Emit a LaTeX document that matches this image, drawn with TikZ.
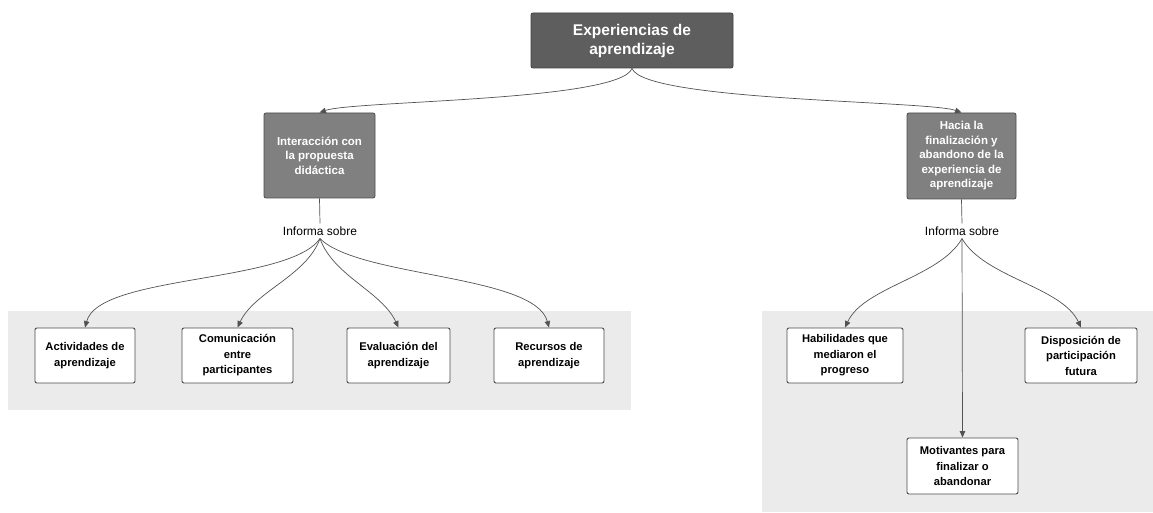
\documentclass[tikz,border=0pt]{standalone}
\usepackage{fontspec}
\setmainfont{Liberation Sans}
\usetikzlibrary{arrows.meta}

\begin{document}
\begin{tikzpicture}[
	x=1pt, y=1pt,
	titlebox/.style={draw=black!75, fill=black!63, rounded corners=2pt, text=white,
		font=\bfseries\fontsize{15.5}{19}\selectfont, align=center, line width=0.8pt,
		minimum width=202pt, minimum height=55pt, inner sep=0pt},
	groupbox/.style={draw=black!70, fill=black!50, rounded corners=2pt, text=white,
		font=\bfseries\fontsize{11.5}{14.5}\selectfont, align=center, line width=0.8pt, inner sep=0pt},
	itembox/.style={draw=black!70, fill=white, rounded corners=2pt,
		font=\bfseries\fontsize{11.2}{15.5}\selectfont, align=center, line width=0.9pt, inner sep=0pt},
	infotext/.style={font=\fontsize{12}{14}\selectfont, inner sep=3pt},
	conn/.style={draw=black!68, line width=0.7pt, -{Triangle[length=6.5pt,width=5.5pt]}},
	panel/.style={fill=black!8}
]
	\useasboundingbox (0,0) rectangle (1153,512);

	% grey panels behind the items
	\fill[panel] (8,201) rectangle (631,102);
	\fill[panel] (762,201) rectangle (1153,0);

	\node[titlebox] (top) at (632,471.5) {Experiencias de\\aprendizaje};

	\node[groupbox, minimum width=111pt, minimum height=85pt] (inter) at (319.5,356.5)
		{Interacción con\\la propuesta\\didáctica};
	\node[groupbox, minimum width=109pt, minimum height=86pt] (hacia) at (961.5,356)
		{Hacia la\\finalización y\\abandono de la\\experiencia de\\aprendizaje};

	\node[infotext] (inf1) at (320,281) {Informa sobre};
	\node[infotext] (inf2) at (962,281) {Informa sobre};

	\node[itembox, minimum width=100pt, minimum height=55pt] (act) at (85,156.5)
		{Actividades de\\aprendizaje};
	\node[itembox, minimum width=111pt, minimum height=55pt] (com) at (237.5,156.5)
		{Comunicación\\entre\\participantes};
	\node[itembox, minimum width=103pt, minimum height=55pt] (eva) at (398.5,156.5)
		{Evaluación del\\aprendizaje};
	\node[itembox, minimum width=110pt, minimum height=55pt] (rec) at (549,156.5)
		{Recursos de\\aprendizaje};

	\node[itembox, minimum width=116pt, minimum height=55pt] (hab) at (845,156.5)
		{Habilidades que\\mediaron el\\progreso};
	\node[itembox, minimum width=112pt, minimum height=55pt] (dis) at (1081,156.5)
		{Disposición de\\participación\\futura};
	\node[itembox, minimum width=111pt, minimum height=56pt] (mot) at (962.5,46)
		{Motivantes para\\finalizar o\\abandonar};

	% plain lines down to the labels
	\draw[draw=black!68, line width=0.7pt] (inter.south) -- (inf1.north);
	\draw[draw=black!68, line width=0.7pt] (hacia.south) -- (inf2.north);

	\foreach \from/\to/\o/\i/\d in {
		top/inter/250/20/35,
		top/hacia/-70/160/35,
		inf1/act/235/75/55,
		inf1/com/250/65/40,
		inf1/eva/-70/115/40,
		inf1/rec/-45/105/55,
		inf2/hab/240/65/45,
		inf2/dis/-60/115/45}
		\draw[conn] (\from.south) to[out=\o, in=\i, distance=\d pt] (\to.north);

	\draw[conn] (inf2.south) -- (mot.north);

\end{tikzpicture}
\end{document}
